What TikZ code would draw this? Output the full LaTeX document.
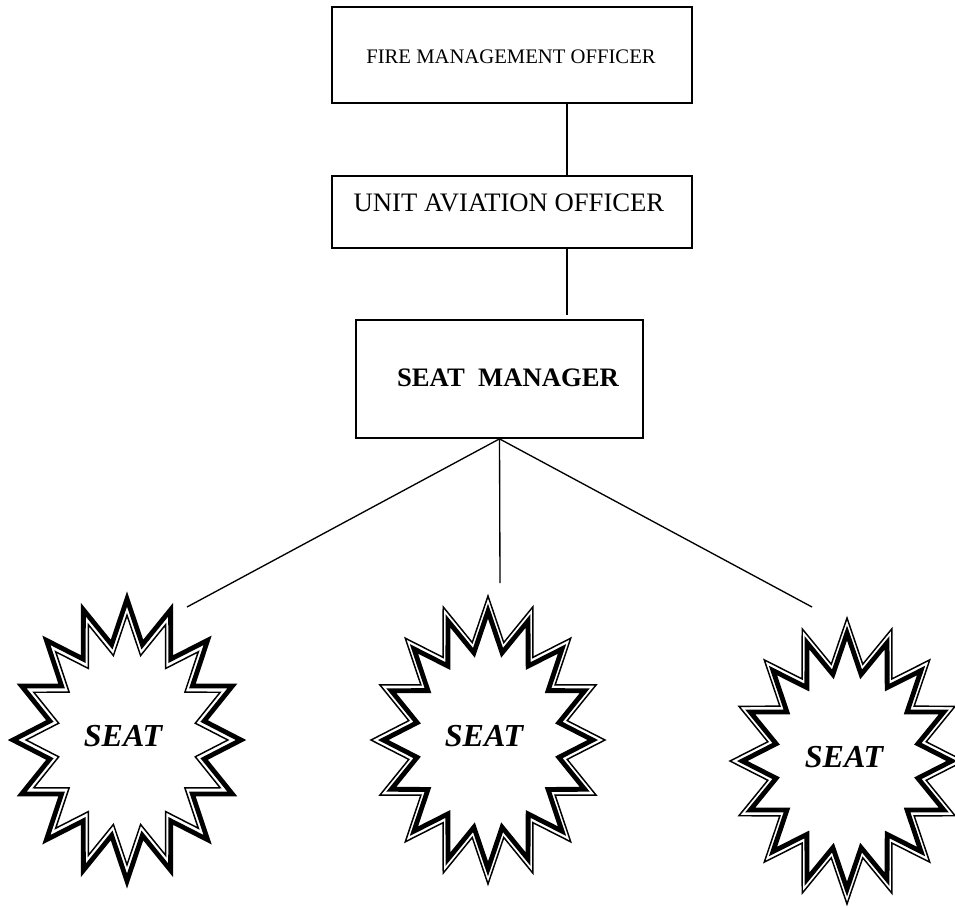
\documentclass[tikz,border=0pt]{standalone}
\usepackage{fontspec}
\setmainfont{Liberation Serif}
\usetikzlibrary{calc}
\tikzset{
  boxnode/.style={draw, line width=1.3pt, inner sep=0pt},
  conn/.style={line width=1pt},
  thinline/.style={line width=1.1pt, line join=miter},
  thickline/.style={line width=3.6pt, line join=miter},
}
% star: #1 style, #2 cx, #3 cy, #4 rx, #5 ry, #6 scale
\newcommand{\seatstarpath}[6]{%
  \draw[#1] plot[samples at={0,...,31}, variable=\k]
    ({#2 + #6*#4*(1-0.31*mod(\k,2))*sin(\k*11.25)},
     {#3 - #6*#5*(1-0.31*mod(\k,2))*cos(\k*11.25)}) -- cycle;}
\begin{document}
\begin{tikzpicture}[x=0.75pt, y=-0.75pt]
\useasboundingbox (0,0) rectangle (955,907);
\fill[white] (0,0) rectangle (955,907);

% boxes
\node[boxnode, minimum width=360*0.75pt, minimum height=96*0.75pt] (b1) at (512,55) {};
\node[font=\fontsize{15.5}{18}\selectfont] (t1) at (511,57) {FIRE MANAGEMENT OFFICER};
\node[boxnode, minimum width=360*0.75pt, minimum height=72*0.75pt] (b2) at (512,212) {};
\node[font=\fontsize{20}{24}\selectfont] (t2) at (509,203) {UNIT AVIATION OFFICER};
\node[boxnode, minimum width=287*0.75pt, minimum height=118*0.75pt] (b3) at (499.5,379) {};
\node[font=\fontsize{20}{24}\selectfont\bfseries] (t3) at (508,378) {SEAT\ \ MANAGER};

% connectors
\coordinate (e2) at (567,315);
\coordinate (l1) at (187,607);
\coordinate (l2) at (500,583);
\coordinate (l3) at (812,607);
\draw[conn] ($(b1.south)+(55,0)$) -- ($(b2.north)+(55,0)$);
\draw[conn] ($(b2.south)+(55,0)$) -- (e2);
\draw[conn] (b3.south) -- (l1);
\draw[conn] (b3.south) -- (l2);
\draw[conn] (b3.south) -- (l3);

% stars
\seatstarpath{thickline}{127}{740}{114}{141}{1}
\seatstarpath{thinline}{127}{740}{114}{141}{0.885}
\seatstarpath{thinline}{488}{740}{117}{144}{1}
\seatstarpath{thickline}{488}{740}{117}{144}{0.895}
\seatstarpath{thinline}{847}{761}{117}{143}{1}
\seatstarpath{thickline}{847}{761}{117}{143}{0.895}

\node[font=\fontsize{24}{28}\selectfont\bfseries\itshape] (s1) at (123,736) {SEAT};
\node[font=\fontsize{24}{28}\selectfont\bfseries\itshape] (s2) at (484,736) {SEAT};
\node[font=\fontsize{24}{28}\selectfont\bfseries\itshape] (s3) at (844,757) {SEAT};
\end{tikzpicture}
\end{document}
